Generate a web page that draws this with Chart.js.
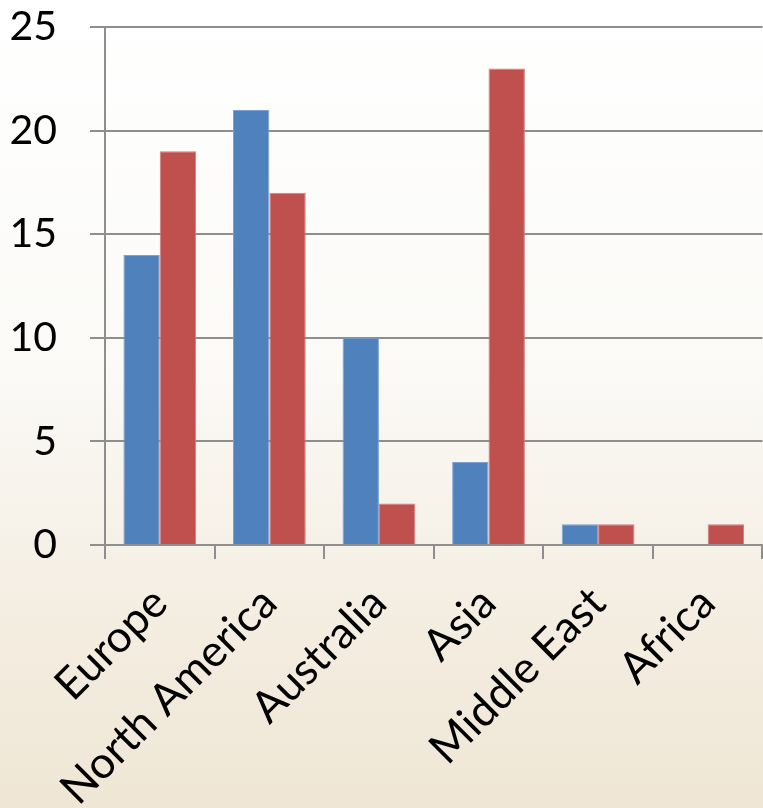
<!DOCTYPE html>
<html>
<head>
<meta charset="utf-8">
<script src="https://cdn.jsdelivr.net/npm/chart.js@4"></script>
<style>
  html, body {
    margin: 0;
    padding: 0;
    width: 763px;
    height: 808px;
    overflow: hidden;
    background: linear-gradient(to bottom, #ffffff 0%, #fbfaf7 45%, #f3ecdf 80%, #efe6d5 100%);
  }
  #wrap { position: relative; width: 763px; height: 808px; }
</style>
</head>
<body>
<div id="wrap"><canvas id="regiones"></canvas></div>
<script>
const categorias = ['Europe', 'North America', 'Australia', 'Asia', 'Middle East', 'Africa'];
const serieAzul = [14, 21, 10, 4, 1, 0];
const serieRoja = [19, 17, 2, 23, 1, 1];
const ticksY = [0, 5, 10, 15, 20, 25];

const fuente = "Lato, 'Open Sans', sans-serif";
const gris = '#8e8e8e';

const ctx = document.getElementById('regiones').getContext('2d');

new Chart(ctx, {
  type: 'bar',
  data: {
    labels: categorias,
    datasets: [
      {
        label: 'Serie 1',
        data: serieAzul,
        backgroundColor: '#4f81bd',
        borderColor: '#7da2cf',
        borderWidth: 1,
        borderSkipped: 'bottom',
        categoryPercentage: 0.664,
        barPercentage: 1
      },
      {
        label: 'Serie 2',
        data: serieRoja,
        backgroundColor: '#c0504d',
        borderColor: '#d17f7d',
        borderWidth: 1,
        borderSkipped: 'bottom',
        categoryPercentage: 0.664,
        barPercentage: 1
      }
    ]
  },
  options: {
    responsive: true,
    maintainAspectRatio: false,
    animation: false,
    layout: {
      padding: 0
    },
    plugins: {
      legend: { display: false },
      tooltip: { enabled: false }
    },
    scales: {
      x: {
        offset: true,
        grid: {
          offset: true,
          drawOnChartArea: false,
          color: gris,
          lineWidth: 2,
          tickLength: 14
        },
        border: { color: gris, width: 2 },
        ticks: {
          color: '#000',
          font: { family: fuente, size: 44 },
          minRotation: 45,
          maxRotation: 45,
          padding: 18,
          autoSkip: false
        },
        afterFit: (scale) => { scale.height = 808 - 545; }
      },
      y: {
        min: 0,
        max: 25,
        afterBuildTicks: (scale) => {
          scale.ticks = ticksY.map(v => ({ value: v }));
        },
        grid: {
          color: gris,
          lineWidth: 2,
          tickLength: 15
        },
        border: { color: gris, width: 2 },
        ticks: {
          color: '#000',
          font: { family: fuente, size: 41 },
          padding: 33
        },
        afterFit: (scale) => {
          // the wide label padding would otherwise push the plot down
          scale.width = 105;
          scale.paddingTop = 27;
          scale.paddingBottom = 0;
        }
      }
    }
  }
});
</script>
</body>
</html>
